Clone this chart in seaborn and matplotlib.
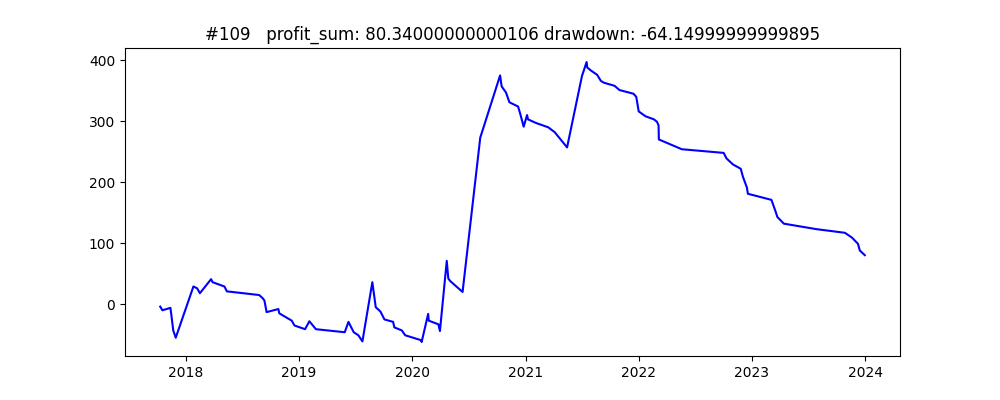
import seaborn as sns
import matplotlib.pyplot as plt
import pandas as pd

# cumulative profit
dates = [
    "2017-10-11", "2017-10-18", "2017-11-13", "2017-11-22", "2017-11-30",
    "2018-01-26", "2018-02-07", "2018-02-16", "2018-03-24", "2018-03-29",
    "2018-05-06", "2018-05-14", "2018-08-26", "2018-09-06", "2018-09-12",
    "2018-09-19", "2018-10-27", "2018-10-30", "2018-12-09", "2018-12-18",
    "2019-01-21", "2019-02-04", "2019-02-25", "2019-05-29", "2019-06-10",
    "2019-06-27", "2019-07-12", "2019-07-25", "2019-08-26", "2019-09-06",
    "2019-09-21", "2019-10-04", "2019-11-01", "2019-11-05", "2019-11-29",
    "2019-12-10", "2020-01-30", "2020-02-01", "2020-02-22", "2020-02-24",
    "2020-03-26", "2020-03-31", "2020-04-22", "2020-04-27", "2020-05-03",
    "2020-06-12", "2020-08-08", "2020-10-11", "2020-10-16", "2020-10-30",
    "2020-11-10", "2020-12-08", "2020-12-15", "2020-12-26", "2021-01-06",
    "2021-01-09", "2021-02-04", "2021-03-15", "2021-04-05", "2021-05-15",
    "2021-07-02", "2021-07-17", "2021-07-19", "2021-07-31", "2021-08-20",
    "2021-09-01", "2021-09-11", "2021-10-15", "2021-10-31", "2021-12-15",
    "2021-12-24", "2022-01-01", "2022-01-23", "2022-02-19", "2022-03-01",
    "2022-03-06", "2022-03-07", "2022-05-20", "2022-10-02", "2022-10-11",
    "2022-11-01", "2022-11-26", "2022-12-03", "2022-12-16", "2022-12-19",
    "2023-03-05", "2023-03-19", "2023-03-24", "2023-04-14", "2023-07-28",
    "2023-10-28", "2023-11-20", "2023-12-09", "2023-12-15", "2023-12-31",
]
profit = [
    -4, -10, -6, -43, -55,
    29, 26, 18, 41, 36,
    29, 21, 15, 10, 6,
    -13, -8, -15, -27, -35,
    -41, -28, -41, -46, -29,
    -46, -51, -61, 36, -5,
    -12, -25, -29, -38, -43,
    -51, -59, -62, -16, -27,
    -33, -44, 71, 42, 38,
    20, 273, 375, 357, 347,
    331, 324, 312, 291, 310,
    303, 297, 290, 282, 257,
    374, 397, 388, 383, 376,
    366, 363, 358, 351, 345,
    340, 316, 308, 303, 299,
    293, 270, 254, 248, 239,
    229, 222, 209, 191, 181,
    171, 151, 143, 132, 123,
    117, 109, 99, 88, 80.34,
]

title = "#109   profit_sum: 80.34000000000106 drawdown: -64.14999999999895"

df = pd.DataFrame({"date": pd.to_datetime(dates), "profit": profit})

fig, ax = plt.subplots(figsize=(10, 4), dpi=100)
sns.lineplot(data=df, x="date", y="profit", color="blue", linewidth=1.5, ax=ax)
ax.set_title(title)
ax.set_xlabel("")
ax.set_ylabel("")

plt.savefig("out.png")
